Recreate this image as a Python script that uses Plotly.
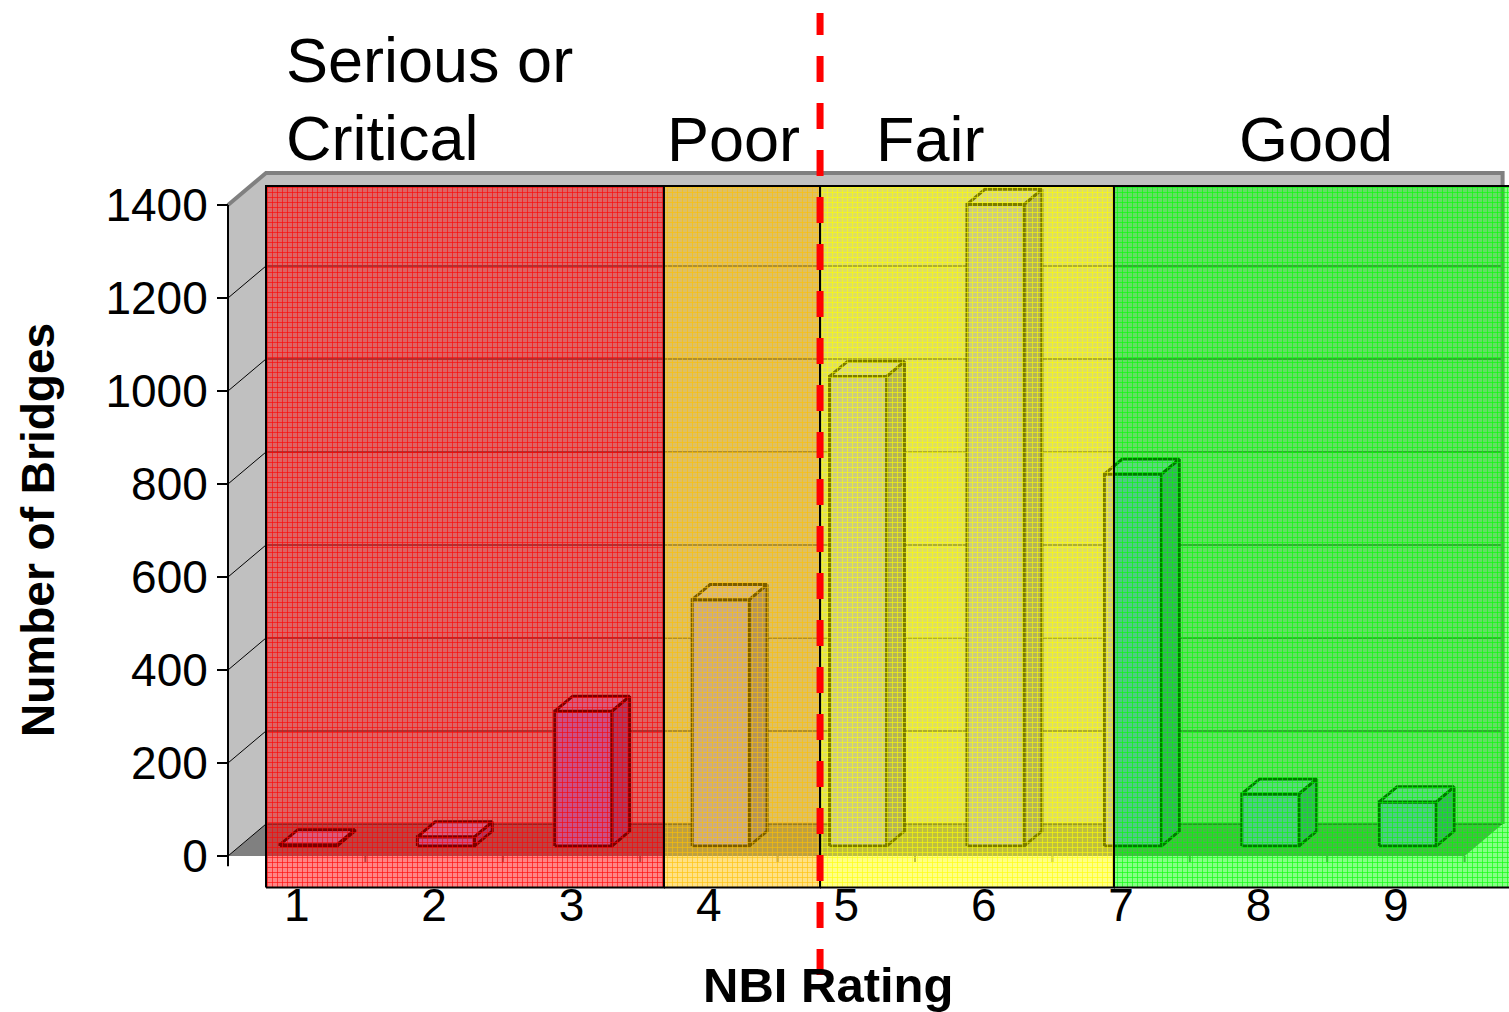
import plotly.graph_objects as go

# ---- data -------------------------------------------------------------
ratings = [1, 2, 3, 4, 5, 6, 7, 8, 9]
bridge_counts = [3, 20, 290, 530, 1010, 1380, 800, 112, 95]
y_tick_values = [0, 200, 400, 600, 800, 1000, 1200, 1400]
y_tick_labels = ["0", "200", "400", "600", "800", "1000", "1200", "1400"]
condition_labels = ["Serious or", "Critical", "Poor", "Fair", "Good"]
x_title = "NBI Rating"
y_title = "Number of Bridges"

# ---- geometry of the pseudo-3D frame ------------------------------------
W, H = 1509, 1012
PLOT_L, PLOT_R, PLOT_T, PLOT_B = 220, W, 0, 889   # plot area in pixels
AXIS_PX = 228          # pixel of the front-left corner (category edge 0.5)
FLOOR_PX = 856         # pixel of value 0 on the front edge
PX_PER_CAT = 137.4
PX_PER_UNIT = 0.465

X0 = 0.5 - (AXIS_PX - PLOT_L) / PX_PER_CAT
X1 = 0.5 + (PLOT_R - AXIS_PX) / PX_PER_CAT
Y0 = -(PLOT_B - FLOOR_PX) / PX_PER_UNIT
Y1 = FLOOR_PX / PX_PER_UNIT

DX = 38 / PX_PER_CAT      # depth offset along x (category units)
DY = 32 / PX_PER_UNIT     # depth offset along y (value units)
TOP = max(y_tick_values)
N = len(ratings)
BAR_W = 0.415
BAR_FRONT, BAR_BACK = 0.31, 0.78


def paper_x(px):
    return (px - PLOT_L) / (PLOT_R - PLOT_L)


def paper_y(py):
    return (PLOT_B - py) / (PLOT_B - PLOT_T)


def poly_trace(polys, fill, line_color=None, line_width=0):
    xs, ys = [], []
    for pts in polys:
        for (a, b) in pts + [pts[0]]:
            xs.append(a)
            ys.append(b)
        xs.append(None)
        ys.append(None)
    return go.Scatter(
        x=xs, y=ys, mode="lines", fill="toself", fillcolor=fill,
        line=dict(color=line_color or fill, width=line_width),
        hoverinfo="skip", showlegend=False,
    )


def line_trace(xs, ys, color, width):
    return go.Scatter(x=xs, y=ys, mode="lines", line=dict(color=color, width=width),
                      hoverinfo="skip", showlegend=False)


fig = go.Figure()

left, right = 0.5, N + 0.5

# walls and floor
fig.add_trace(poly_trace([[(left, 0), (left, TOP), (left + DX, TOP + DY), (left + DX, DY)]], "#c0c0c0"))
fig.add_trace(poly_trace([[(left + DX, DY), (left + DX, TOP + DY), (right + DX, TOP + DY), (right + DX, DY)]], "#c0c0c0"))
fig.add_trace(poly_trace([[(left, 0), (right, 0), (right + DX, DY), (left + DX, DY)]], "#808080"))

# gridlines on the back wall and the left wall
gx, gy = [], []
for v in y_tick_values:
    if v < TOP:
        gx += [left + DX, right + DX, None]
        gy += [v + DY, v + DY, None]
    gx += [left, left + DX, None]
    gy += [v, v + DY, None]
fig.add_trace(line_trace(gx, gy, "#000000", 1))

# wall top rim
fig.add_trace(line_trace([left, left + DX, right + DX, right + DX],
                         [TOP, TOP + DY, TOP + DY, DY], "#808080", 4))

# category boundary ticks on the floor edge
tx, ty = [], []
for k in range(1, N + 1):
    tx += [k + 0.5, k + 0.5, None]
    ty += [0, -13, None]
fig.add_trace(line_trace(tx, ty, "#808080", 2))

# front value axis line
fig.add_trace(line_trace([left, left], [-22, TOP], "#000000", 2))

# 3D columns
fronts, tops, sides = [], [], []
for r, v in zip(ratings, bridge_counts):
    cx = r + BAR_FRONT * DX
    xl, xr = cx - BAR_W / 2, cx + BAR_W / 2
    yb = BAR_FRONT * DY
    yt = yb + v
    ddx = (BAR_BACK - BAR_FRONT) * DX
    ddy = (BAR_BACK - BAR_FRONT) * DY
    fronts.append([(xl, yb), (xr, yb), (xr, yt), (xl, yt)])
    tops.append([(xl, yt), (xr, yt), (xr + ddx, yt + ddy), (xl + ddx, yt + ddy)])
    sides.append([(xr, yb), (xr + ddx, yb + ddy), (xr + ddx, yt + ddy), (xr, yt)])
fig.add_trace(poly_trace(sides, "#6b6bb3", "#000000", 3))
fig.add_trace(poly_trace(fronts, "#9999ff", "#000000", 3))
fig.add_trace(poly_trace(tops, "#b0b0f0", "#000000", 3))

# translucent condition bands
band_top = (FLOOR_PX - 186) / PX_PER_UNIT
band_bot = Y0 + 1.5 / PX_PER_UNIT
band_edges = [left + DX, 3.673, 4.809, 6.948, X1 + 0.05]
band_colors = [(255, 0, 0), (255, 192, 0), (255, 255, 0), (0, 255, 0)]
for i, (r_, g_, b_) in enumerate(band_colors):
    xa, xb = band_edges[i], band_edges[i + 1]
    fig.add_trace(go.Scatter(
        x=[xa, xb, xb, xa, xa], y=[band_bot, band_bot, band_top, band_top, band_bot],
        mode="lines", fill="toself",
        fillcolor=f"rgba({r_},{g_},{b_},0.5)",
        fillpattern=dict(shape="+", fgcolor=f"rgb({r_},{g_},{b_})",
                         bgcolor=f"rgba({r_},{g_},{b_},0.48)",
                         fgopacity=0.9, size=5, solidity=0.25),
        line=dict(color="#000000", width=2),
        hoverinfo="skip", showlegend=False,
    ))

# dashed divider between Poor and Fair
fig.add_shape(type="line", xref="paper", yref="paper",
              x0=(band_edges[2] - X0) / (X1 - X0), x1=(band_edges[2] - X0) / (X1 - X0),
              y0=paper_y(975), y1=paper_y(13),
              line=dict(color="#ff0000", width=7, dash="26px,21px"))

FONT = "Liberation Sans, Arial, sans-serif"
label_pos = [(284, 60), (284, 138), (665, 139), (874, 139), (1237, 139)]
for text, (px, py) in zip(condition_labels, label_pos):
    fig.add_annotation(text=text, xref="paper", yref="paper", x=paper_x(px), y=paper_y(py),
                       xanchor="left", yanchor="middle", showarrow=False,
                       font=dict(family=FONT, size=63, color="#000000"))

fig.add_annotation(text=f"<b>{x_title}</b>", xref="paper", yref="paper",
                   x=paper_x(828), y=paper_y(985), xanchor="center", yanchor="middle",
                   showarrow=False, font=dict(family=FONT, size=49, color="#000000"))
fig.add_annotation(text=f"<b>{y_title}</b>", xref="paper", yref="paper",
                   x=paper_x(38), y=paper_y(530), xanchor="center", yanchor="middle",
                   textangle=-90, showarrow=False,
                   font=dict(family=FONT, size=46, color="#000000"))

fig.update_layout(
    width=W, height=H,
    margin=dict(l=PLOT_L, r=W - PLOT_R, t=PLOT_T, b=H - PLOT_B, pad=0),
    paper_bgcolor="#ffffff", plot_bgcolor="#ffffff",
    showlegend=False,
    xaxis=dict(range=[X0, X1], tickvals=ratings, ticktext=[str(r) for r in ratings],
               anchor="free", position=paper_y(PLOT_B - 15),
               showgrid=False, zeroline=False, showline=False, ticks="",
               tickfont=dict(family=FONT, size=46, color="#000000"), fixedrange=True),
    yaxis=dict(range=[Y0, Y1], tickvals=y_tick_values, ticktext=y_tick_labels,
               anchor="free", position=paper_x(AXIS_PX),
               showgrid=False, zeroline=False, showline=False,
               ticks="outside", ticklen=11, tickwidth=2, tickcolor="#000000",
               tickfont=dict(family=FONT, size=46, color="#000000"), fixedrange=True),
)

fig.write_html("out.html")
